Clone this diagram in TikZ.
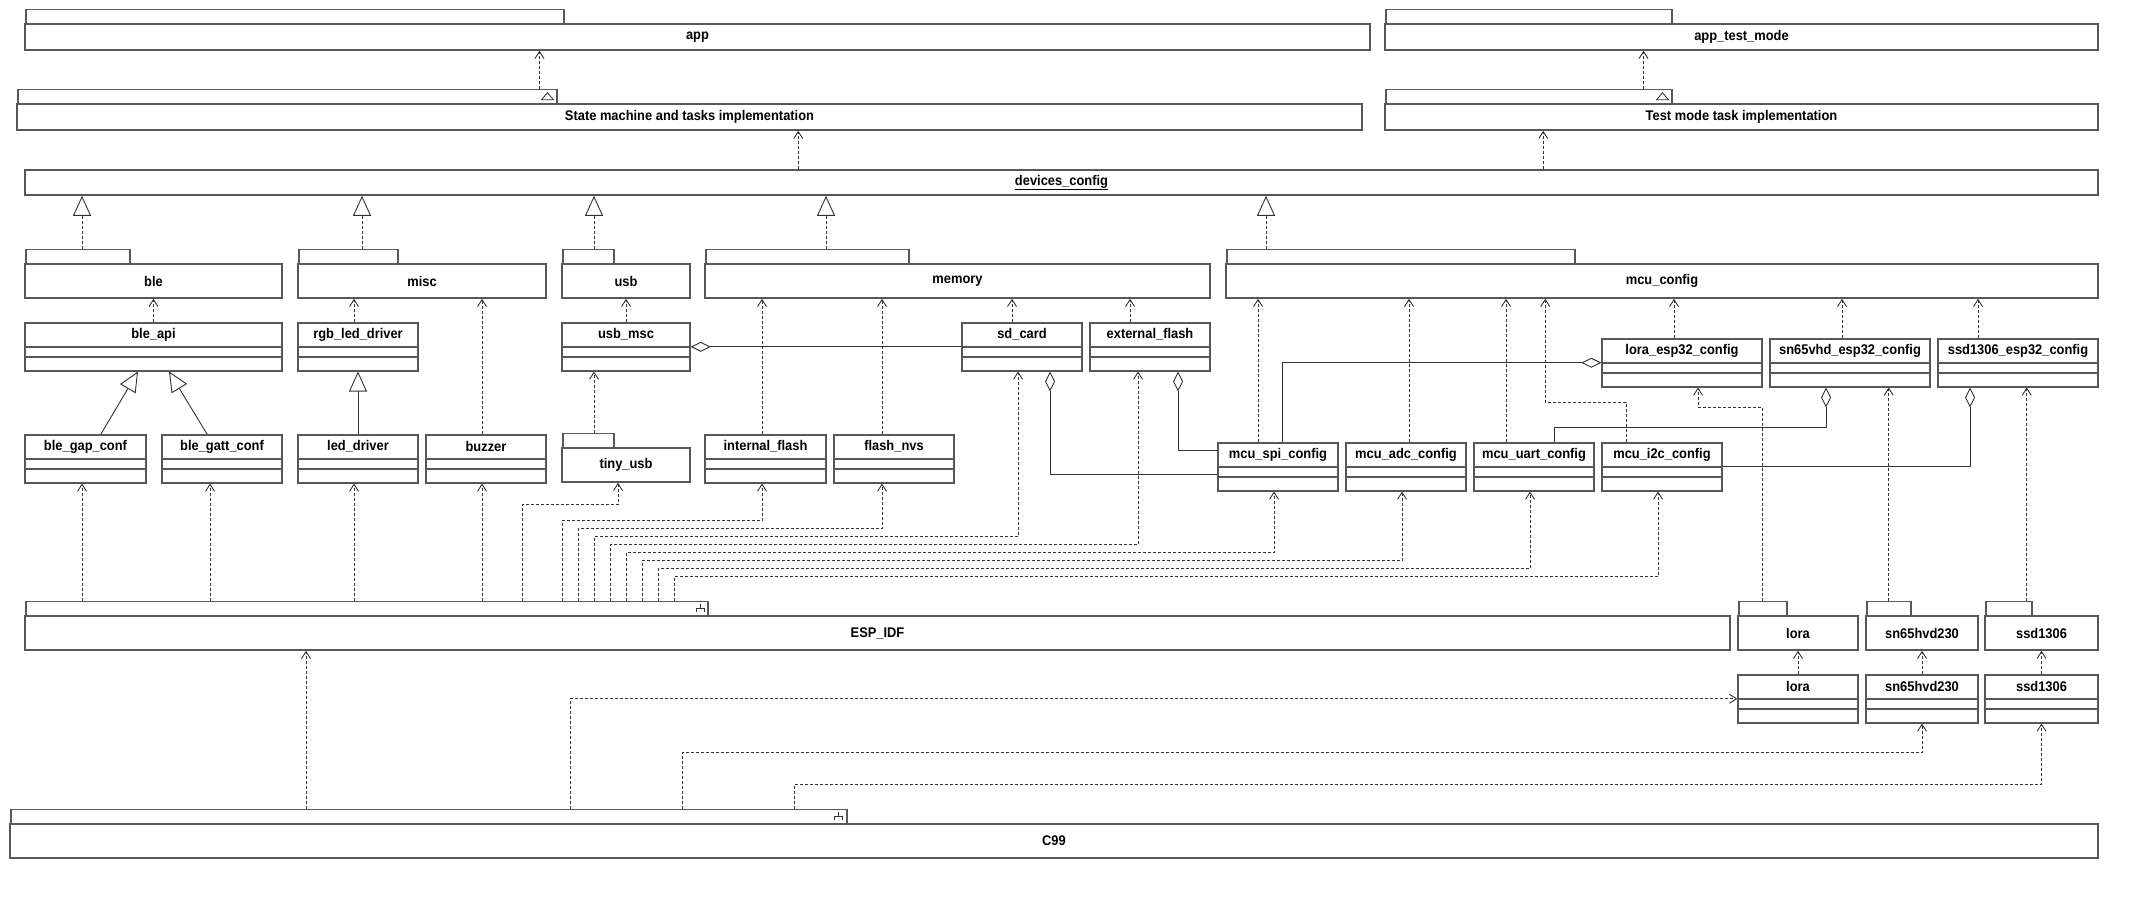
\documentclass[tikz,border=0pt]{standalone}
\usepackage{fontspec}
\setmainfont{Liberation Sans}[FakeStretch=0.92]
\usetikzlibrary{arrows.meta}
\definecolor{umlgray}{RGB}{88,88,88}
\definecolor{umldark}{RGB}{50,50,50}

\begin{document}
\begin{tikzpicture}[x=1pt,y=-1pt,
    box/.style={draw=umlgray,line width=1.5pt,fill=white,inner sep=0pt},
    pkg/.style={box,font=\bfseries\fontsize{14}{16}\selectfont},
    pkgtab/.style={box,anchor=south west,minimum height=14},
    cls/.style={box,anchor=north,minimum height=48},
    clsname/.style={anchor=north,minimum height=25,inner sep=0pt,
                    font=\bfseries\fontsize{14}{16}\selectfont},
    dep/.style={draw=umldark,line width=0.9pt,dash pattern=on 3pt off 2pt,
                -{Straight Barb[length=7pt,width=9pt]}},
    real/.style={draw=umldark,line width=0.9pt,dash pattern=on 3pt off 2pt,
                 -{Triangle[open,length=20pt,width=18pt,fill=white]}},
    gen/.style={draw=umldark,line width=0.9pt,
                -{Triangle[open,length=20pt,width=18pt,fill=white]}},
    agg/.style={draw=umldark,line width=0.9pt,
                {Diamond[open,length=20pt,width=10pt,fill=white]}-},
  ]

    \fill[white] (0,0) rectangle (2139,898);
    \useasboundingbox (0,0) rectangle (2139,898);

    % Packages
    \foreach \n/\xa/\xb/\ya/\yb/\tx/\lbl in {
        app/25/1370/24/50/563/app,
        apptest/1385/2098/24/50/1671/app\_test\_mode,
        sm/17/1362/104/130/556/State machine and tasks implementation,
        tm/1385/2098/104/130/1671/Test mode task implementation,
        ble/25/282/264/298/129/ble,
        misc/298/546/264/298/397/misc,
        usb/562/690/264/298/613/usb,
        memory/705/1210/264/298/908/memory,
        mcucfg/1226/2098/264/298/1574/mcu\_config,
        tinyusb/562/690/448/482/613/tiny\_usb,
        esp/25/1730/616/650/707/ESP\_IDF,
        lorapkg/1738/1858/616/650/1786/lora,
        snpkg/1866/1978/616/650/1910/sn65hvd230,
        ssdpkg/1985/2098/616/650/2031/ssd1306,
        c99/10/2098/824/858/846/C99}
    {
      \node[pkgtab,minimum width={\tx-\xa}] (tab\n) at (\xa,\ya) {};
      \node[pkg,minimum width={\xb-\xa},minimum height={\yb-\ya}] (\n)
        at ({(\xa+\xb)/2},{(\ya+\yb)/2}) {\lbl};
    }

    % Object
    \node[pkg,minimum width=2073,minimum height=25] (devcfg) at (1061.5,182.5)
      {\underline{devices\_config}};

    % Classes
    \foreach \n/\cx/\yt/\w/\lbl in {
        bleapi/153.5/322/257/ble\_api,
        rgbled/358/322/120/rgb\_led\_driver,
        usbmsc/626/322/128/usb\_msc,
        sdcard/1022/322/120/sd\_card,
        extflash/1150/322/120/external\_flash,
        blegap/85.5/434/121/ble\_gap\_conf,
        blegatt/222/434/120/ble\_gatt\_conf,
        leddrv/358/434/120/led\_driver,
        buzzer/486/434/120/buzzer,
        intflash/765.5/434/121/internal\_flash,
        flashnvs/894/434/120/flash\_nvs,
        loraesp/1682/338/160/lora\_esp32\_config,
        snesp/1850/338/160/sn65vhd\_esp32\_config,
        ssdesp/2018/338/160/ssd1306\_esp32\_config,
        mcuspi/1278/442/120/mcu\_spi\_config,
        mcuadc/1406/442/120/mcu\_adc\_config,
        mcuuart/1534/442/120/mcu\_uart\_config,
        mcui2c/1662/442/120/mcu\_i2c\_config,
        loracls/1798/674/120/lora,
        sncls/1922/674/112/sn65hvd230,
        ssdcls/2041.5/674/113/ssd1306}
    {
      \node[cls,minimum width=\w] (\n) at (\cx,\yt) {};
      \node[clsname] at (\n.north) {\lbl};
      \draw[umlgray,line width=1.5pt] ([yshift=-25]\n.north west) -- ([yshift=-25]\n.north east);
      \draw[umlgray,line width=1.5pt] ([yshift=-35]\n.north west) -- ([yshift=-35]\n.north east);
    }

    % Tab icons
    \foreach \t in {sm,tm}
      \draw[umldark,line width=0.8pt] ([xshift=-16,yshift=-3.5]tab\t.east)
        -- ++(12,0) -- ++(-6,-7) -- cycle;
    \foreach \t/\dx in {esp/-8,c99/-9}
      \draw[umldark,line width=0.8pt] ([xshift=\dx,yshift=4]tab\t.east) -- ++(0,4)
        ++(-4,4) -- ++(0,-4) -- ++(8,0) -- ++(0,4);

    % Top dependencies
    \draw[dep] ([xshift=-18]tabsm.north east) -- ([xshift=-18]tabsm.north east |- app.south);
    \draw[dep] ([xshift=-29]tabtm.north east) -- ([xshift=-29]tabtm.north east |- apptest.south);
    \draw[dep] ([xshift=774]devcfg.north west) -- ([xshift=774]devcfg.north west |- sm.south);
    \draw[dep] ([xshift=1519]devcfg.north west) -- ([xshift=1519]devcfg.north west |- tm.south);

    % Realizations
    \foreach \p/\dx in {ble/57,misc/64,usb/32,memory/121,mcucfg/40}
      \draw[real] ([xshift=\dx]tab\p.north west) -- ([xshift=\dx]tab\p.north west |- devcfg.south);

    % Classes to packages
    \foreach \c/\p/\dx in {bleapi/ble/0,rgbled/misc/-4,usbmsc/usb/0,sdcard/memory/-10,
        extflash/memory/-20,buzzer/misc/-4,intflash/memory/-3.5,flashnvs/memory/-12,
        mcuspi/mcucfg/-20,mcuadc/mcucfg/3,mcuuart/mcucfg/-28,loraesp/mcucfg/-8,
        snesp/mcucfg/-8,ssdesp/mcucfg/-40,loracls/lorapkg/0,sncls/snpkg/0,ssdcls/ssdpkg/0}
      \draw[dep] ([xshift=\dx]\c.north) -- ([xshift=\dx]\c.north |- \p.south);
    \draw[dep] ([xshift=32]tabtinyusb.north west) -- ([xshift=32]tabtinyusb.north west |- usbmsc.south);
    \draw[dep] ([xshift=-36]mcui2c.north) -- ++(0,-40) -| ([xshift=320]mcucfg.south west);

    % Generalizations
    \draw[gen] ([xshift=15.5]blegap.north) -- ([xshift=-15.5]bleapi.south);
    \draw[gen] ([xshift=-15]blegatt.north) -- ([xshift=15.5]bleapi.south);
    \draw[gen] (leddrv.north) -- (rgbled.south);

    % Aggregations
    \draw[agg] (usbmsc.east) -- (sdcard.west);
    \draw[agg] ([xshift=28]sdcard.south) |- ([yshift=-8]mcuspi.west);
    \draw[agg] ([xshift=28]extflash.south) |- ([yshift=16]mcuspi.west);
    \draw[agg] (loraesp.west) -| ([xshift=4]mcuspi.north);
    \draw[agg] ([xshift=-24]snesp.south) -- ++(0,40) -| ([xshift=20]mcuuart.north);
    \draw[agg] ([xshift=-48]ssdesp.south) |- (mcui2c.east);

    % Drivers to config
    \draw[dep] (tablorapkg.north) -- ++(0,-193) -| ([xshift=16]loraesp.south);
    \draw[dep] (tabsnpkg.north) -- (tabsnpkg.north |- snesp.south);
    \draw[dep] ([xshift=18]tabssdpkg.north) -- ([xshift=18]tabssdpkg.north |- ssdesp.south);

    % ESP_IDF
    \foreach \dx/\c in {57/blegap,185/blegatt,329/leddrv,457/buzzer}
      \draw[dep] ([xshift=\dx]tabesp.north west) -- ([xshift=\dx]tabesp.north west |- \c.south);
    \foreach \dx/\up/\c/\cx in {497/96/tinyusb/-8,537/80/intflash/-3.5,553/72/flashnvs/-12,
        569/64/sdcard/-4,585/56/extflash/-12,601/48/mcuspi/-4,617/40/mcuadc/-4,
        633/32/mcuuart/-4,649/24/mcui2c/-4}
      \draw[dep] ([xshift=\dx]tabesp.north west) -- ++(0,-\up) -| ([xshift=\cx]\c.south);

    % C99
    \draw[dep] ([xshift=296]tabc99.north west) -- ([xshift=296]tabc99.north west |- esp.south);
    \draw[dep] ([xshift=560]tabc99.north west) |- (loracls.west);
    \draw[dep] ([xshift=672]tabc99.north west) -- ++(0,-56) -| (sncls.south);
    \draw[dep] ([xshift=784]tabc99.north west) -- ++(0,-24) -| (ssdcls.south);

  \end{tikzpicture}
\end{document}
